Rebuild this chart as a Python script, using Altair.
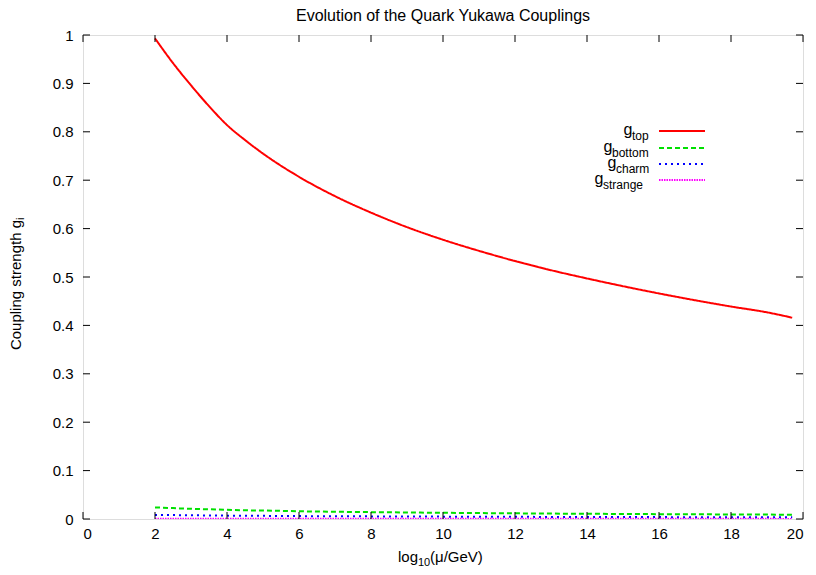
import altair as alt
import pandas as pd

# ---- data ----
x_vals = [2, 2.5, 3, 3.5, 4, 4.5, 5, 6, 7, 8, 9, 10, 11, 12, 13, 14, 15, 16, 17, 18, 19, 19.7]
g_top = [0.993, 0.942, 0.896, 0.853, 0.814, 0.783, 0.755, 0.707, 0.667, 0.633, 0.603, 0.577,
         0.554, 0.533, 0.514, 0.497, 0.481, 0.466, 0.452, 0.439, 0.427, 0.416]
g_bottom = [0.024, 0.0225, 0.021, 0.020, 0.019, 0.018, 0.0175, 0.016, 0.015, 0.0142, 0.0135, 0.0128,
            0.0122, 0.0117, 0.0112, 0.0108, 0.0104, 0.0100, 0.0097, 0.0094, 0.0091, 0.0089]
g_charm = [0.0085, 0.0081, 0.0077, 0.0073, 0.0070, 0.0067, 0.0065, 0.0060, 0.0057, 0.0054, 0.0051, 0.0049,
           0.0047, 0.0045, 0.0043, 0.0042, 0.0040, 0.0039, 0.0038, 0.0037, 0.0036, 0.0035]
g_strange = [0.0006, 0.00057, 0.00054, 0.00051, 0.00049, 0.00047, 0.00046, 0.00043, 0.0004, 0.00038, 0.00036,
             0.00035, 0.00033, 0.00032, 0.00031, 0.0003, 0.00029, 0.00028, 0.00027, 0.00026, 0.00026, 0.00025]

series_names = ["top", "bottom", "charm", "strange"]
series_colors = ["#ff0000", "#00e000", "#0000ff", "#ff00ff"]
series_dash = [[1, 0], [5, 3], [2, 4], [1.5, 1]]
series_width = [2, 2, 2, 2]

x_ticks = list(range(0, 21, 2))
y_ticks = [round(i * 0.1, 1) for i in range(11)]

title_text = "Evolution of the Quark Yukawa Couplings"

W, H = 720, 484
FONT = "Liberation Sans"

rows = []
for name, vals in zip(series_names, [g_top, g_bottom, g_charm, g_strange]):
    for xv, yv in zip(x_vals, vals):
        rows.append({"x": xv, "g": yv, "series": name})
df = pd.DataFrame(rows)

xscale = alt.Scale(domain=[0, 20], nice=False, zero=False)
yscale = alt.Scale(domain=[0, 1], nice=False)

lines = alt.Chart(df).mark_line(clip=True, interpolate="monotone").encode(
    x=alt.X("x:Q", scale=xscale,
            axis=alt.Axis(values=x_ticks, title=None, grid=False, domain=False, tickSize=0,
                          labelFontSize=15, labelFont=FONT, labelColor="black", labelPadding=7)),
    y=alt.Y("g:Q", scale=yscale,
            axis=alt.Axis(values=y_ticks, title=None, grid=False, domain=False, tickSize=0, format="~g",
                          labelFontSize=15, labelFont=FONT, labelColor="black", labelPadding=10)),
    color=alt.Color("series:N", scale=alt.Scale(domain=series_names, range=series_colors), legend=None),
    strokeDash=alt.StrokeDash("series:N", scale=alt.Scale(domain=series_names, range=series_dash), legend=None),
    strokeWidth=alt.StrokeWidth("series:N", scale=alt.Scale(domain=series_names, range=series_width), legend=None),
    detail="series:N",
    order=alt.Order("x:Q"),
)

xt = pd.DataFrame({"t": x_ticks})
yt = pd.DataFrame({"t": y_ticks})
tick_len = 7
tx_bot = alt.Chart(xt).mark_rule(color="black", strokeWidth=1).encode(
    x=alt.X("t:Q", scale=xscale), y=alt.value(H), y2=alt.value(H - tick_len))
tx_top = alt.Chart(xt).mark_rule(color="black", strokeWidth=1).encode(
    x=alt.X("t:Q", scale=xscale), y=alt.value(0), y2=alt.value(tick_len))
ty_left = alt.Chart(yt).mark_rule(color="black", strokeWidth=1).encode(
    y=alt.Y("t:Q", scale=yscale), x=alt.value(0), x2=alt.value(tick_len))
ty_right = alt.Chart(yt).mark_rule(color="black", strokeWidth=1).encode(
    y=alt.Y("t:Q", scale=yscale), x=alt.value(W), x2=alt.value(W - tick_len))


def label(text, x, y, size, align="left", angle=0, baseline="alphabetic"):
    kw = dict(align=align, baseline=baseline, fontSize=size, font=FONT, color="black")
    if angle:
        kw["angle"] = angle
    return alt.Chart(pd.DataFrame({"t": [text]})).mark_text(**kw).encode(
        x=alt.value(x), y=alt.value(y), text="t:N")


layers = [lines, tx_bot, tx_top, ty_left, ty_right]

# title
layers.append(label(title_text, W / 2, -14, 16, align="center"))

# x-axis title: log_10(mu/GeV)
layers.append(label("log", 315, 527, 15, align="left"))
layers.append(label("10", 335, 531, 11, align="left"))
layers.append(label("(\u03bc/GeV)", 347, 527, 15, align="left"))

# y-axis title: Coupling strength g_i
layers.append(label("Coupling strength g", -62, 185, 15, align="right", angle=270))
layers.append(label("i", -59, 185, 11, align="left", angle=270))

# legend (gnuplot style: text right-aligned, sample line to the right)
leg_rows = [96, 113, 129, 145]
sub_start = [549, 529, 533, 520]
for name, color, dash, sw, ry, sx in zip(series_names, series_colors, series_dash, series_width,
                                         leg_rows, sub_start):
    layers.append(label("g", sx + 0.5, ry + 4, 16, align="right"))
    layers.append(label(name, sx, ry + 9, 12, align="left"))
    layers.append(alt.Chart(pd.DataFrame({"s": [name]})).mark_rule(
        color=color, strokeDash=dash, strokeWidth=sw).encode(
        x=alt.value(576), x2=alt.value(622), y=alt.value(ry)))

chart = alt.layer(*layers).properties(
    width=W, height=H,
    autosize="none",
    padding={"left": 75, "top": 27, "right": 5, "bottom": 50},
).configure_view(stroke="black", strokeWidth=2).configure(background="white")

chart.save("out.html", embed_options={"renderer": "svg", "actions": False})
